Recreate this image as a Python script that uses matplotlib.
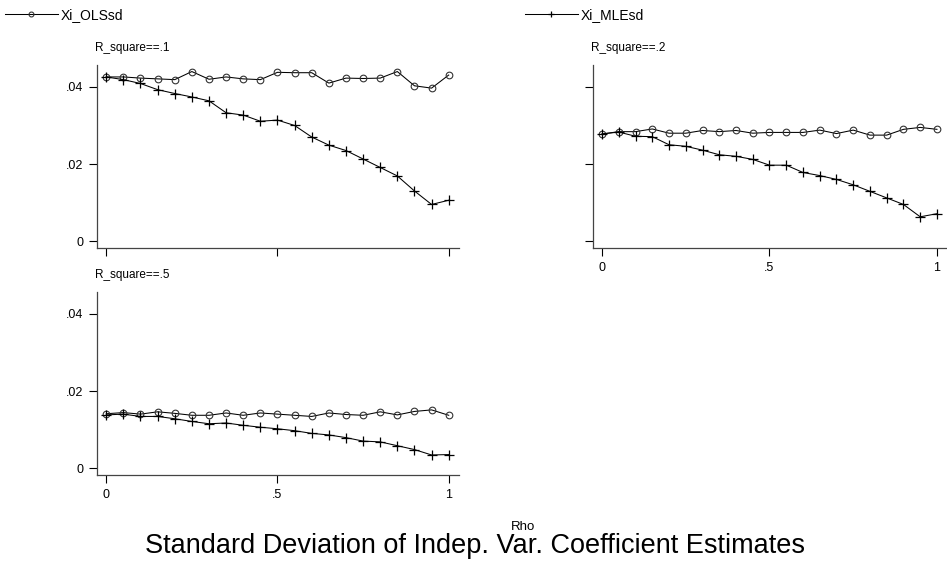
import matplotlib
matplotlib.use("Agg")
import matplotlib.pyplot as plt
from matplotlib.lines import Line2D

plt.rcParams["font.family"] = ["Liberation Sans", "DejaVu Sans"]

# rho grid
rho = [0.00, 0.05, 0.10, 0.15, 0.20, 0.25, 0.30, 0.35, 0.40, 0.45, 0.50,
       0.55, 0.60, 0.65, 0.70, 0.75, 0.80, 0.85, 0.90, 0.95, 1.00]

# R_square == .1
ols_r1 = [0.0426, 0.0426, 0.0423, 0.0421, 0.0419, 0.0440, 0.0420, 0.0426, 0.0421, 0.0419, 0.0438,
          0.0437, 0.0437, 0.0410, 0.0423, 0.0422, 0.0423, 0.0440, 0.0403, 0.0397, 0.0431]
mle_r1 = [0.0426, 0.0419, 0.0409, 0.0393, 0.0383, 0.0374, 0.0364, 0.0333, 0.0327, 0.0311, 0.0314,
          0.0300, 0.0270, 0.0249, 0.0235, 0.0213, 0.0191, 0.0169, 0.0130, 0.0095, 0.0106]

# R_square == .2
ols_r2 = [0.0278, 0.0284, 0.0284, 0.0291, 0.0280, 0.0280, 0.0287, 0.0284, 0.0287, 0.0280, 0.0282,
          0.0282, 0.0282, 0.0288, 0.0279, 0.0288, 0.0275, 0.0275, 0.0290, 0.0295, 0.0290]
mle_r2 = [0.0278, 0.0283, 0.0272, 0.0271, 0.0250, 0.0246, 0.0236, 0.0224, 0.0220, 0.0212, 0.0197,
          0.0197, 0.0178, 0.0170, 0.0160, 0.0146, 0.0129, 0.0112, 0.0095, 0.0063, 0.0071]

# R_square == .5
ols_r5 = [0.0141, 0.0144, 0.0140, 0.0146, 0.0142, 0.0137, 0.0137, 0.0143, 0.0137, 0.0143, 0.0140,
          0.0137, 0.0134, 0.0143, 0.0139, 0.0137, 0.0146, 0.0138, 0.0147, 0.0151, 0.0137]
mle_r5 = [0.0138, 0.0140, 0.0134, 0.0134, 0.0128, 0.0121, 0.0115, 0.0117, 0.0111, 0.0106, 0.0102,
          0.0097, 0.0090, 0.0086, 0.0079, 0.0070, 0.0068, 0.0058, 0.0048, 0.0034, 0.0035]

panel_titles = ["R_square==.1", "R_square==.2", "R_square==.5"]
y_ticks = [0, 0.02, 0.04]
y_ticklabels = ["0", ".02", ".04"]
x_ticks = [0, 0.5, 1]
x_ticklabels = ["0", ".5", "1"]

W, H = 947, 567
fig = plt.figure(figsize=(W / 100, H / 100), dpi=100)


def px_axes(left, top, right, bottom):
    return fig.add_axes([left / W, 1 - bottom / H, (right - left) / W, (bottom - top) / H])


# pixel boxes (left, top, right, bottom)
boxes = [(97, 65, 459, 248), (593, 65, 947, 248), (97, 292, 459, 475)]
series = [(ols_r1, mle_r1), (ols_r2, mle_r2), (ols_r5, mle_r5)]
show_x = [False, True, True]
show_y = [True, False, True]

spine_col = "#444444"
for box, (ols, mle), title, sx, sy in zip(boxes, series, panel_titles, show_x, show_y):
    ax = px_axes(*box)
    ax.plot(rho, ols, color="black", lw=0.75, marker="o", ms=4.8, mfc="none",
            mec="#333333", mew=0.8)
    ax.plot(rho, mle, color="black", lw=0.75, marker="+", ms=6.5, mew=0.9)
    ax.set_xlim(-0.027, 1.03)
    ax.set_ylim(-0.0018, 0.0457)
    for s in ["top", "right"]:
        ax.spines[s].set_visible(False)
    for s in ["left", "bottom"]:
        ax.spines[s].set_color(spine_col)
        ax.spines[s].set_linewidth(0.9)
    ax.set_yticks(y_ticks)
    ax.set_xticks(x_ticks)
    ax.set_yticklabels(y_ticklabels if sy else [])
    ax.set_xticklabels(x_ticklabels if sx else [])
    ax.tick_params(length=6, width=0.8, color="black", labelsize=9, pad=4)
    ax.text(-0.005, 1.06, title, transform=ax.transAxes, fontsize=8.5,
            ha="left", va="bottom")

# legend row
h_ols = Line2D([], [], color="black", lw=0.75, marker="o", ms=3.5, mfc="none",
               mec="#333333", mew=0.8)
h_mle = Line2D([], [], color="black", lw=0.75, marker="+", ms=5, mew=0.9)
fig.legend(handles=[h_ols], labels=["Xi_OLSsd"], loc="center left",
           bbox_to_anchor=(5 / W, 1 - 15 / H), frameon=False, fontsize=10,
           handlelength=3.8, handletextpad=0.2, borderaxespad=0, borderpad=0)
fig.legend(handles=[h_mle], labels=["Xi_MLEsd"], loc="center left",
           bbox_to_anchor=(525 / W, 1 - 15 / H), frameon=False, fontsize=10,
           handlelength=3.8, handletextpad=0.2, borderaxespad=0, borderpad=0)

fig.text(523 / W, 1 - 527 / H, "Rho", ha="center", va="center", fontsize=9.5)
fig.text(475 / W, 1 - 546 / H, "Standard Deviation of Indep. Var. Coefficient Estimates",
         ha="center", va="center", fontsize=19.5)

fig.savefig("out.png", dpi=100)
